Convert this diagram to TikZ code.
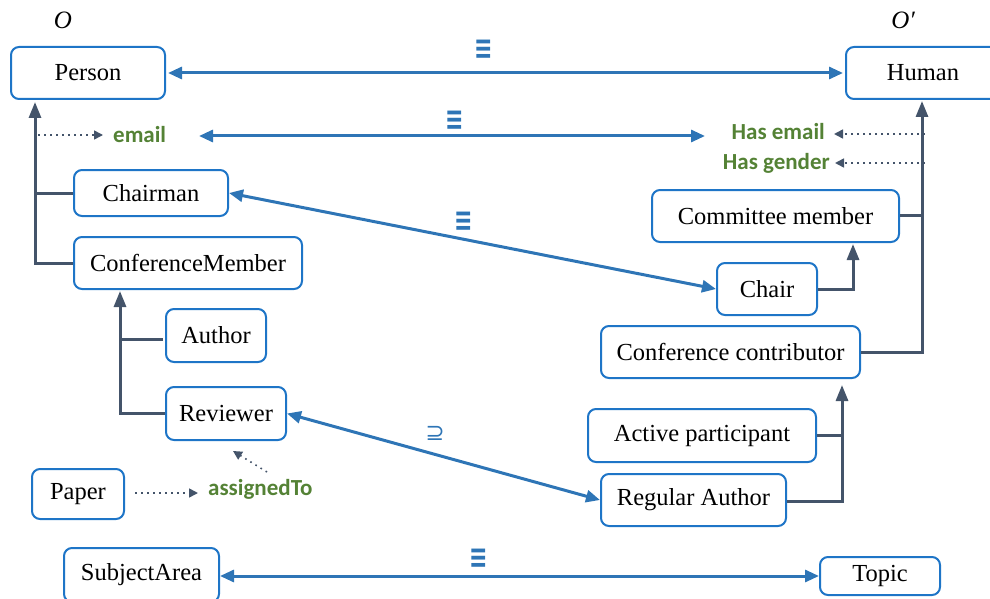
\documentclass[tikz,border=0pt]{standalone}
\usepackage{fontspec}
\usepackage{graphicx}
\setmainfont{Liberation Serif}
\newfontfamily\labelfont{Carlito}
\newfontfamily\symfont{DejaVu Sans}
\usetikzlibrary{arrows.meta}

\definecolor{boxblue}{RGB}{30,117,199}
\definecolor{mapblue}{RGB}{46,117,182}
\definecolor{isagray}{RGB}{68,84,106}
\definecolor{propgreen}{RGB}{84,130,53}

\begin{document}
\begin{tikzpicture}[x=1pt,y=-1pt,
  cls/.style={draw=boxblue, line width=2pt, rounded corners=8pt, fill=white,
    inner sep=0pt, font=\fontsize{24.5}{28}\selectfont},
  prop/.style={text=propgreen, inner sep=0pt,
    font=\labelfont\bfseries\fontsize{23}{27}\selectfont},
  onto/.style={inner sep=0pt, font=\itshape\fontsize{25}{29}\selectfont},
  eqv/.style={text=mapblue, inner sep=0pt,
    font=\symfont\bfseries\fontsize{22}{26}\selectfont},
  mapping/.style={draw=mapblue, line width=3pt,
    {Triangle[length=14pt,width=12pt]}-{Triangle[length=14pt,width=12pt]}},
  isa/.style={draw=isagray, line width=3pt,
    -{Triangle[length=16pt,width=12pt]}},
  isaline/.style={draw=isagray, line width=3pt},
  propline/.style={draw=isagray, line width=1.6pt, dash pattern=on 1.6pt off 4.4pt,
    -{Triangle[length=9pt,width=9pt]}},
]
\clip (0,0) rectangle (990,599);
\useasboundingbox (0,0) rectangle (990,599);

% ontology labels
\node[onto] (ontoA) at (63,20) {O};
\node[onto] (ontoB) at (903,20) {O\char"2032};

% classes of the first ontology
\node[cls, minimum width=154pt, minimum height=52pt] (person) at (88,73) {Person};
\node[cls, minimum width=154pt, minimum height=46pt] (chairman) at (151,193) {Chairman};
\node[cls, minimum width=228pt, minimum height=52pt] (confmember) at (188,263) {ConferenceMember};
\node[cls, minimum width=100pt, minimum height=53pt] (author) at (216,335.5) {Author};
\node[cls, minimum width=120pt, minimum height=53pt] (reviewer) at (226,413.5) {Reviewer};
\node[cls, minimum width=92pt, minimum height=50pt] (paper) at (78,494) {Paper};
\node[cls, minimum width=155pt, minimum height=54pt] (subjarea) at (141.5,575) {SubjectArea};

% classes of the second ontology
\node[cls, minimum width=154pt, minimum height=52pt] (human) at (923,73) {Human};
\node[cls, minimum width=247pt, minimum height=52pt] (committee) at (775.5,216) {Committee member};
\node[cls, minimum width=100pt, minimum height=52pt] (chair) at (767,289) {Chair};
\node[cls, minimum width=259pt, minimum height=52pt] (contributor) at (730.5,352) {Conference contributor};
\node[cls, minimum width=228pt, minimum height=53pt] (active) at (702,435.5) {Active participant};
\node[cls, minimum width=185pt, minimum height=52pt] (regauthor) at (693.5,500) {Regular Author};
\node[cls, minimum width=120pt, minimum height=38pt] (topic) at (880,576) {Topic};

% properties
\node[prop, anchor=west] (email) at (113,135) {email};
\node[prop, anchor=east] (hasemail) at (825,132) {Has email};
\node[prop, anchor=east] (hasgender) at (830,163) {Has gender};
\node[prop, anchor=west] (assigned) at (208,489) {assignedTo};

% subclass hierarchy of the first ontology
\coordinate (personfoot) at (35,102);
\draw[isa] (confmember.west) -| (personfoot);
\draw[isaline] (chairman.west) -- (chairman.west -| personfoot);
\coordinate (memberfoot) at (120,291);
\draw[isa] ([yshift=0.5pt]reviewer.west) -| (memberfoot);
\coordinate (authorjoin) at (163,339);
\draw[isaline] (authorjoin) -- (authorjoin -| memberfoot);

% subclass hierarchy of the second ontology
\coordinate (humanfoot) at (922,101);
\draw[isa] (contributor.east) -| (humanfoot);
\draw[isaline] ([yshift=1pt]committee.east) -- ([yshift=1pt]committee.east -| humanfoot);
\coordinate (committeefoot) at (853,244);
\draw[isa] (chair.east) -| (committeefoot);
\coordinate (contribfoot) at (842,385);
\draw[isa] ([yshift=-1pt]regauthor.east) -| (contribfoot);
\draw[isaline] (active.east) -- (active.east -| contribfoot);

% domains and ranges of properties
\coordinate (emailsrc) at (38,135);
\draw[propline, shorten >=10pt] (emailsrc) -- (email.west);
\coordinate (hasemailsrc) at (925,134);
\draw[propline, shorten >=9pt] (hasemailsrc) -- (hasemailsrc -| hasemail.east);
\coordinate (hasgendersrc) at (925,163);
\draw[propline, shorten >=5pt] (hasgendersrc) -- (hasgender.east);
\coordinate (papersrc) at (135,493);
\draw[propline, shorten >=10pt] (papersrc) -- (papersrc -| assigned.west);
\coordinate (assignedsrc) at (267,472);
\coordinate (reviewertip) at (233,451);
\draw[propline] (assignedsrc) -- (reviewertip);

% correspondences between the ontologies
\draw[mapping, shorten <=2pt, shorten >=2pt] (person.east) -- (human.west);
\node[eqv] (eq1) at (484,50) {\scalebox{1}[1.5]{≡}};
\coordinate (emailmapL) at (199,136);
\coordinate (emailmapR) at (705,136);
\draw[mapping] (emailmapL) -- (emailmapR);
\node[eqv] (eq2) at (455,121) {\scalebox{1}[1.5]{≡}};
\draw[mapping] (chairman.east) -- (chair.west);
\node[eqv] (eq3) at (464,222) {\scalebox{1}[1.5]{≡}};
\draw[mapping] (reviewer.east) -- (regauthor.west);
\node[text=mapblue, inner sep=0pt, font=\symfont\fontsize{23}{26}\selectfont] (sup) at (435,433) {⊇};
\draw[mapping] (subjarea.east |- topic.west) -- (topic.west);
\node[eqv] (eq4) at (479,559) {\scalebox{1}[1.5]{≡}};
\end{tikzpicture}
\end{document}
